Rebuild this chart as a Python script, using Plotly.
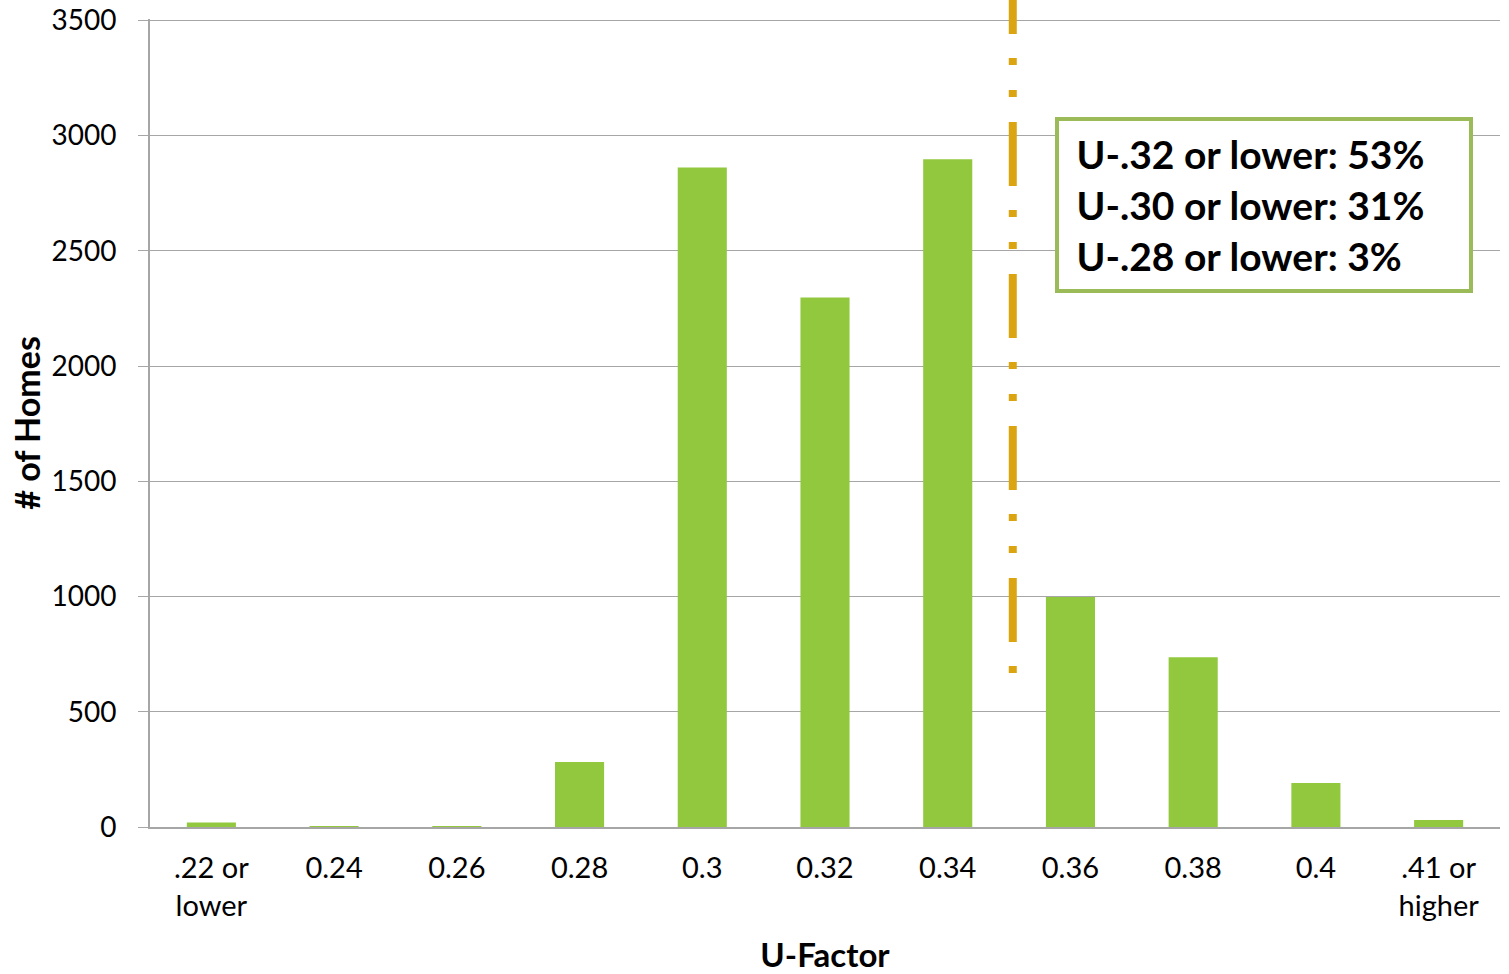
import plotly.graph_objects as go

categories = [".22 or<br>lower", "0.24", "0.26", "0.28", "0.3", "0.32", "0.34",
              "0.36", "0.38", "0.4", ".41 or<br>higher"]
homes = [20, 3, 4, 282, 2862, 2298, 2897, 998, 737, 191, 30]
y_ticks = [0, 500, 1000, 1500, 2000, 2500, 3000, 3500]
box_lines = ["U-.32 or lower: 53%", "U-.30 or lower: 31%", "U-.28 or lower: 3%"]
ref_line_category_pos = 6.53
ref_line_bottom = 668
Y_MAX = 3506  # a hair above 3500 so the top gridline is drawn

FONT = "Lato"
GRAY = "#A6A6A6"

fig = go.Figure()
fig.add_trace(go.Bar(
    x=categories, y=homes,
    marker=dict(color="#92C83E", line=dict(width=0)),
    width=0.4,
))

fig.update_layout(
    width=1509, height=974,
    margin=dict(l=150, r=9, t=19, b=147),
    paper_bgcolor="white", plot_bgcolor="white",
    showlegend=False,
    font=dict(family=FONT, size=27, color="black"),
    bargap=0.6,
)

fig.update_xaxes(
    type="category", automargin=False,
    showline=True, linecolor=GRAY, linewidth=2,
    showgrid=False, ticks="",
    tickfont=dict(family=FONT, size=29),
    ticklabelstandoff=14,
    title=dict(text="<b>U-Factor</b>", font=dict(family=FONT, size=33), standoff=27),
)
fig.update_yaxes(
    range=[0, Y_MAX], tickvals=y_ticks, automargin=False,
    showline=True, linecolor=GRAY, linewidth=2,
    showgrid=True, gridcolor=GRAY, gridwidth=1,
    ticks="outside", ticklen=10, tickcolor=GRAY, tickwidth=1,
    tickfont=dict(family=FONT, size=28),
    ticklabelstandoff=16, ticklabeloverflow="allow",
    zeroline=False,
    title=dict(text="<b># of Homes</b>", font=dict(family=FONT, size=34), standoff=1),
)

# Reference line between 0.34 and 0.36 (category axis spans -0.5..n-0.5)
n = len(categories)
x_dom = (ref_line_category_pos + 0.5) / n
fig.add_shape(
    type="line", xref="x domain", yref="paper",
    x0=x_dom, x1=x_dom, y0=ref_line_bottom / Y_MAX, y1=1.03,
    line=dict(color="#DAA511", width=8, dash="7px,24px,64px,25px,7px,25px"),
    layer="above",
)

fig.add_annotation(
    xref="paper", yref="paper",
    x=0.6704, y=0.8787, xanchor="left", yanchor="top",
    text="<br>".join("<b>&nbsp;" + t + "</b>" for t in box_lines),
    align="left", valign="middle", showarrow=False,
    width=394, height=152,
    font=dict(family=FONT, size=39, color="black"),
    bordercolor="#9BBB59", borderwidth=4, borderpad=8,
    bgcolor="white",
)

# remove the browser's default 8px body margin so the figure fills the window
fig.write_html("out.html", config={"displayModeBar": False},
               post_script="document.body.style.margin='0';")
